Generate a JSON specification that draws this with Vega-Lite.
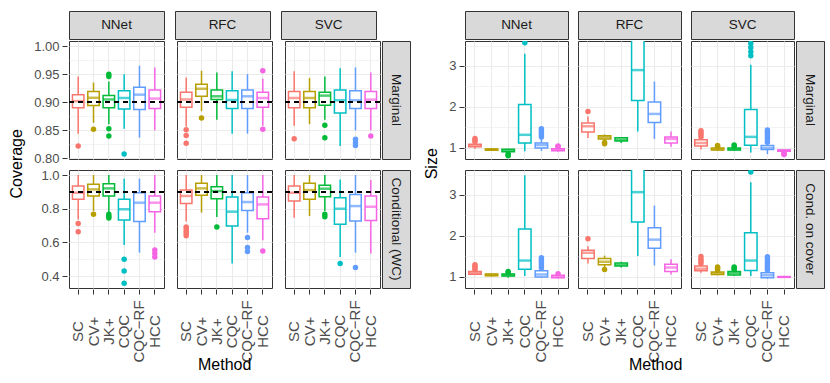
{
  "$schema": "https://vega.github.io/schema/vega-lite/v6.json",
  "padding": {"left": 8, "top": 10, "right": 5, "bottom": 5},
  "background": "white",
  "spacing": 12,
  "config": {
    "font": "Liberation Sans",
    "axis": {"labelFont": "Liberation Sans", "titleFont": "Liberation Sans", "titleFontWeight": "normal", "titleColor": "#000000", "titleFontSize": 16},
    "title": {"font": "Liberation Sans", "fontWeight": "normal", "fontSize": 16, "color": "#000000"}
  },
  "datasets": {
    "covM": [
      {"model":"NNet","method":"SC","lo":0.844,"q1":0.890,"med":0.902,"q3":0.9135,"hi":0.946},
      {"model":"NNet","method":"CV+","lo":0.8635,"q1":0.894,"med":0.908,"q3":0.919,"hi":0.935},
      {"model":"NNet","method":"JK+","lo":0.861,"q1":0.890,"med":0.905,"q3":0.912,"hi":0.937},
      {"model":"NNet","method":"CQC","lo":0.853,"q1":0.888,"med":0.9076,"q3":0.9206,"hi":0.950},
      {"model":"NNet","method":"CQC−RF","lo":0.837,"q1":0.887,"med":0.9135,"q3":0.9265,"hi":0.965},
      {"model":"NNet","method":"HCC","lo":0.850,"q1":0.889,"med":0.9065,"q3":0.922,"hi":0.962},
      {"model":"RFC","method":"SC","lo":0.857,"q1":0.891,"med":0.905,"q3":0.9176,"hi":0.944},
      {"model":"RFC","method":"CV+","lo":0.884,"q1":0.9106,"med":0.924,"q3":0.932,"hi":0.956},
      {"model":"RFC","method":"JK+","lo":0.869,"q1":0.905,"med":0.9106,"q3":0.922,"hi":0.953},
      {"model":"RFC","method":"CQC","lo":0.844,"q1":0.889,"med":0.904,"q3":0.9206,"hi":0.955},
      {"model":"RFC","method":"CQC−RF","lo":0.844,"q1":0.889,"med":0.9106,"q3":0.922,"hi":0.950},
      {"model":"RFC","method":"HCC","lo":0.858,"q1":0.891,"med":0.9076,"q3":0.9176,"hi":0.942},
      {"model":"SVC","method":"SC","lo":0.858,"q1":0.890,"med":0.9076,"q3":0.919,"hi":0.955},
      {"model":"SVC","method":"CV+","lo":0.861,"q1":0.890,"med":0.9076,"q3":0.919,"hi":0.943},
      {"model":"SVC","method":"JK+","lo":0.869,"q1":0.8947,"med":0.9118,"q3":0.918,"hi":0.946},
      {"model":"SVC","method":"CQC","lo":0.822,"q1":0.881,"med":0.9035,"q3":0.922,"hi":0.9606},
      {"model":"SVC","method":"CQC−RF","lo":0.850,"q1":0.889,"med":0.9035,"q3":0.9206,"hi":0.962},
      {"model":"SVC","method":"HCC","lo":0.850,"q1":0.889,"med":0.9047,"q3":0.919,"hi":0.953},
      {"model":"NNet","method":"SC","out":0.822},
      {"model":"NNet","method":"CV+","out":0.852},
      {"model":"NNet","method":"JK+","out":0.950},
      {"model":"NNet","method":"JK+","out":0.946},
      {"model":"NNet","method":"JK+","out":0.853},
      {"model":"NNet","method":"JK+","out":0.840},
      {"model":"NNet","method":"CQC","out":0.808},
      {"model":"RFC","method":"SC","out":0.851},
      {"model":"RFC","method":"SC","out":0.841},
      {"model":"RFC","method":"SC","out":0.827},
      {"model":"RFC","method":"CV+","out":0.872},
      {"model":"RFC","method":"HCC","out":0.956},
      {"model":"RFC","method":"HCC","out":0.852},
      {"model":"SVC","method":"SC","out":0.835},
      {"model":"SVC","method":"JK+","out":0.859},
      {"model":"SVC","method":"JK+","out":0.837},
      {"model":"SVC","method":"CQC−RF","out":0.834},
      {"model":"SVC","method":"CQC−RF","out":0.828},
      {"model":"SVC","method":"CQC−RF","out":0.823},
      {"model":"SVC","method":"HCC","out":0.840}
    ],
    "covC": [
      {"model":"NNet","method":"SC","lo":0.737,"q1":0.856,"med":0.895,"q3":0.935,"hi":1.0},
      {"model":"NNet","method":"CV+","lo":0.787,"q1":0.876,"med":0.915,"q3":0.945,"hi":1.0},
      {"model":"NNet","method":"JK+","lo":0.777,"q1":0.876,"med":0.921,"q3":0.949,"hi":1.0},
      {"model":"NNet","method":"CQC","lo":0.585,"q1":0.733,"med":0.797,"q3":0.856,"hi":0.978},
      {"model":"NNet","method":"CQC−RF","lo":0.54,"q1":0.724,"med":0.836,"q3":0.895,"hi":0.978},
      {"model":"NNet","method":"HCC","lo":0.658,"q1":0.783,"med":0.836,"q3":0.876,"hi":1.0},
      {"model":"RFC","method":"SC","lo":0.724,"q1":0.832,"med":0.876,"q3":0.911,"hi":1.0},
      {"model":"RFC","method":"CV+","lo":0.777,"q1":0.88,"med":0.921,"q3":0.951,"hi":1.0},
      {"model":"RFC","method":"JK+","lo":0.751,"q1":0.86,"med":0.905,"q3":0.931,"hi":1.0},
      {"model":"RFC","method":"CQC","lo":0.475,"q1":0.698,"med":0.783,"q3":0.87,"hi":1.0},
      {"model":"RFC","method":"CQC−RF","lo":0.658,"q1":0.79,"med":0.84,"q3":0.895,"hi":1.0},
      {"model":"RFC","method":"HCC","lo":0.613,"q1":0.741,"med":0.826,"q3":0.87,"hi":1.0},
      {"model":"SVC","method":"SC","lo":0.747,"q1":0.846,"med":0.895,"q3":0.935,"hi":1.0},
      {"model":"SVC","method":"CV+","lo":0.757,"q1":0.856,"med":0.911,"q3":0.951,"hi":1.0},
      {"model":"SVC","method":"JK+","lo":0.787,"q1":0.872,"med":0.919,"q3":0.939,"hi":1.0},
      {"model":"SVC","method":"CQC","lo":0.514,"q1":0.708,"med":0.80,"q3":0.866,"hi":0.974},
      {"model":"SVC","method":"CQC−RF","lo":0.54,"q1":0.728,"med":0.816,"q3":0.885,"hi":1.0},
      {"model":"SVC","method":"HCC","lo":0.534,"q1":0.731,"med":0.812,"q3":0.876,"hi":0.97},
      {"model":"NNet","method":"SC","out":0.712},
      {"model":"NNet","method":"SC","out":0.664},
      {"model":"NNet","method":"CV+","out":0.767},
      {"model":"NNet","method":"JK+","out":0.767},
      {"model":"NNet","method":"JK+","out":0.755},
      {"model":"NNet","method":"JK+","out":0.745},
      {"model":"NNet","method":"CQC","out":0.50},
      {"model":"NNet","method":"CQC","out":0.431},
      {"model":"NNet","method":"CQC","out":0.358},
      {"model":"NNet","method":"HCC","out":0.556},
      {"model":"NNet","method":"HCC","out":0.534},
      {"model":"NNet","method":"HCC","out":0.514},
      {"model":"RFC","method":"SC","out":0.692},
      {"model":"RFC","method":"SC","out":0.68},
      {"model":"RFC","method":"SC","out":0.665},
      {"model":"RFC","method":"SC","out":0.652},
      {"model":"RFC","method":"SC","out":0.64},
      {"model":"RFC","method":"JK+","out":0.692},
      {"model":"RFC","method":"CQC−RF","out":0.629},
      {"model":"RFC","method":"CQC−RF","out":0.57},
      {"model":"RFC","method":"CQC−RF","out":0.546},
      {"model":"RFC","method":"HCC","out":0.55},
      {"model":"SVC","method":"JK+","out":0.767},
      {"model":"SVC","method":"JK+","out":0.752},
      {"model":"SVC","method":"CQC","out":0.475},
      {"model":"SVC","method":"CQC−RF","out":0.451}
    ],
    "sizeM": [
      {"model":"NNet","method":"SC","lo":0.98,"q1":1.03,"med":1.06,"q3":1.09,"hi":1.12},
      {"model":"NNet","method":"CV+","lo":0.93,"q1":0.945,"med":0.96,"q3":0.975,"hi":0.99},
      {"model":"NNet","method":"JK+","lo":0.87,"q1":0.91,"med":0.93,"q3":0.965,"hi":0.98},
      {"model":"NNet","method":"CQC","lo":0.92,"q1":1.12,"med":1.32,"q3":2.06,"hi":3.30},
      {"model":"NNet","method":"CQC−RF","lo":0.93,"q1":1.0,"med":1.07,"q3":1.12,"hi":1.22},
      {"model":"NNet","method":"HCC","lo":0.91,"q1":0.93,"med":0.955,"q3":0.98,"hi":1.0},
      {"model":"RFC","method":"SC","lo":1.24,"q1":1.39,"med":1.53,"q3":1.61,"hi":1.77},
      {"model":"RFC","method":"CV+","lo":1.17,"q1":1.22,"med":1.26,"q3":1.30,"hi":1.33},
      {"model":"RFC","method":"JK+","lo":1.12,"q1":1.17,"med":1.20,"q3":1.25,"hi":1.27},
      {"model":"RFC","method":"CQC","lo":1.40,"q1":2.16,"med":2.90,"q3":3.75,"hi":4.5},
      {"model":"RFC","method":"CQC−RF","lo":1.22,"q1":1.62,"med":1.83,"q3":2.12,"hi":2.62},
      {"model":"RFC","method":"HCC","lo":1.03,"q1":1.12,"med":1.22,"q3":1.27,"hi":1.40},
      {"model":"SVC","method":"SC","lo":0.97,"q1":1.05,"med":1.12,"q3":1.20,"hi":1.22},
      {"model":"SVC","method":"CV+","lo":0.93,"q1":0.95,"med":0.97,"q3":1.0,"hi":1.02},
      {"model":"SVC","method":"JK+","lo":0.93,"q1":0.95,"med":0.97,"q3":1.0,"hi":1.02},
      {"model":"SVC","method":"CQC","lo":0.89,"q1":1.065,"med":1.27,"q3":1.94,"hi":3.03},
      {"model":"SVC","method":"CQC−RF","lo":0.85,"q1":0.96,"med":1.0,"q3":1.06,"hi":1.10},
      {"model":"SVC","method":"HCC","lo":0.90,"q1":0.92,"med":0.935,"q3":0.95,"hi":0.96},
      {"model":"NNet","method":"SC","out":1.15},
      {"model":"NNet","method":"SC","out":1.19},
      {"model":"NNet","method":"SC","out":1.23},
      {"model":"NNet","method":"JK+","out":0.85},
      {"model":"NNet","method":"JK+","out":0.83},
      {"model":"NNet","method":"JK+","out":0.81},
      {"model":"NNet","method":"CQC","out":3.57},
      {"model":"NNet","method":"CQC−RF","out":1.27},
      {"model":"NNet","method":"CQC−RF","out":1.32},
      {"model":"NNet","method":"CQC−RF","out":1.37},
      {"model":"NNet","method":"CQC−RF","out":1.42},
      {"model":"NNet","method":"CQC−RF","out":1.47},
      {"model":"NNet","method":"HCC","out":1.03},
      {"model":"NNet","method":"HCC","out":1.05},
      {"model":"RFC","method":"SC","out":1.89},
      {"model":"RFC","method":"CV+","out":1.13},
      {"model":"RFC","method":"CV+","out":1.10},
      {"model":"SVC","method":"SC","out":1.27},
      {"model":"SVC","method":"SC","out":1.32},
      {"model":"SVC","method":"SC","out":1.37},
      {"model":"SVC","method":"SC","out":1.42},
      {"model":"SVC","method":"CV+","out":1.04},
      {"model":"SVC","method":"CV+","out":1.06},
      {"model":"SVC","method":"JK+","out":1.04},
      {"model":"SVC","method":"JK+","out":1.07},
      {"model":"SVC","method":"CQC","out":3.25},
      {"model":"SVC","method":"CQC","out":3.35},
      {"model":"SVC","method":"CQC","out":3.45},
      {"model":"SVC","method":"CQC","out":3.55},
      {"model":"SVC","method":"CQC−RF","out":1.14},
      {"model":"SVC","method":"CQC−RF","out":1.20},
      {"model":"SVC","method":"CQC−RF","out":1.26},
      {"model":"SVC","method":"CQC−RF","out":1.32},
      {"model":"SVC","method":"CQC−RF","out":1.38},
      {"model":"SVC","method":"CQC−RF","out":1.44},
      {"model":"SVC","method":"HCC","out":0.88},
      {"model":"SVC","method":"HCC","out":0.86},
      {"model":"SVC","method":"HCC","out":0.84}
    ],
    "sizeC": [
      {"model":"NNet","method":"SC","lo":1.04,"q1":1.065,"med":1.10,"q3":1.13,"hi":1.15},
      {"model":"NNet","method":"CV+","lo":1.01,"q1":1.03,"med":1.05,"q3":1.07,"hi":1.08},
      {"model":"NNet","method":"JK+","lo":0.98,"q1":1.02,"med":1.045,"q3":1.07,"hi":1.09},
      {"model":"NNet","method":"CQC","lo":1.02,"q1":1.19,"med":1.40,"q3":2.17,"hi":3.48},
      {"model":"NNet","method":"CQC−RF","lo":0.98,"q1":1.0,"med":1.06,"q3":1.15,"hi":1.18},
      {"model":"NNet","method":"HCC","lo":0.96,"q1":0.98,"med":1.01,"q3":1.04,"hi":1.06},
      {"model":"RFC","method":"SC","lo":1.33,"q1":1.45,"med":1.59,"q3":1.65,"hi":1.75},
      {"model":"RFC","method":"CV+","lo":1.22,"q1":1.30,"med":1.37,"q3":1.45,"hi":1.52},
      {"model":"RFC","method":"JK+","lo":1.23,"q1":1.27,"med":1.30,"q3":1.34,"hi":1.37},
      {"model":"RFC","method":"CQC","lo":1.51,"q1":2.34,"med":3.07,"q3":3.85,"hi":4.6},
      {"model":"RFC","method":"CQC−RF","lo":1.28,"q1":1.70,"med":1.91,"q3":2.20,"hi":2.74},
      {"model":"RFC","method":"HCC","lo":1.06,"q1":1.13,"med":1.23,"q3":1.31,"hi":1.43},
      {"model":"SVC","method":"SC","lo":1.10,"q1":1.15,"med":1.20,"q3":1.27,"hi":1.29},
      {"model":"SVC","method":"CV+","lo":1.04,"q1":1.06,"med":1.09,"q3":1.12,"hi":1.14},
      {"model":"SVC","method":"JK+","lo":1.03,"q1":1.05,"med":1.09,"q3":1.13,"hi":1.15},
      {"model":"SVC","method":"CQC","lo":1.02,"q1":1.16,"med":1.40,"q3":2.08,"hi":3.31},
      {"model":"SVC","method":"CQC−RF","lo":0.96,"q1":0.98,"med":1.04,"q3":1.10,"hi":1.13},
      {"model":"SVC","method":"HCC","lo":0.99,"q1":0.995,"med":1.0,"q3":1.005,"hi":1.01},
      {"model":"NNet","method":"SC","out":1.18},
      {"model":"NNet","method":"SC","out":1.22},
      {"model":"NNet","method":"SC","out":1.26},
      {"model":"NNet","method":"SC","out":1.30},
      {"model":"NNet","method":"JK+","out":1.11},
      {"model":"NNet","method":"JK+","out":1.13},
      {"model":"NNet","method":"CQC−RF","out":1.22},
      {"model":"NNet","method":"CQC−RF","out":1.27},
      {"model":"NNet","method":"CQC−RF","out":1.32},
      {"model":"NNet","method":"CQC−RF","out":1.37},
      {"model":"NNet","method":"CQC−RF","out":1.42},
      {"model":"NNet","method":"CQC−RF","out":1.47},
      {"model":"NNet","method":"HCC","out":1.08},
      {"model":"RFC","method":"SC","out":1.93},
      {"model":"RFC","method":"CV+","out":1.18},
      {"model":"SVC","method":"SC","out":1.33},
      {"model":"SVC","method":"SC","out":1.38},
      {"model":"SVC","method":"SC","out":1.43},
      {"model":"SVC","method":"SC","out":1.50},
      {"model":"SVC","method":"CV+","out":1.17},
      {"model":"SVC","method":"CV+","out":1.21},
      {"model":"SVC","method":"CV+","out":1.24},
      {"model":"SVC","method":"JK+","out":1.18},
      {"model":"SVC","method":"JK+","out":1.21},
      {"model":"SVC","method":"JK+","out":1.24},
      {"model":"SVC","method":"CQC","out":3.56},
      {"model":"SVC","method":"CQC−RF","out":1.17},
      {"model":"SVC","method":"CQC−RF","out":1.22},
      {"model":"SVC","method":"CQC−RF","out":1.27},
      {"model":"SVC","method":"CQC−RF","out":1.32},
      {"model":"SVC","method":"CQC−RF","out":1.38},
      {"model":"SVC","method":"CQC−RF","out":1.44},
      {"model":"SVC","method":"CQC−RF","out":1.49}
    ]
  },
  "hconcat": [
    {
      "title": {"text": "Coverage", "orient": "left", "anchor": "middle", "offset": 9, "dx": 28},
      "spacing": 0,
      "vconcat": [
        {
          "data": {"values": [{"model":"NNet"},{"model":"RFC"},{"model":"SVC"}]},
          "facet": {"column": {"field": "model", "type": "nominal", "sort": ["NNet","RFC","SVC"], "header": {"labels": false, "title": null}}},
          "spacing": 9,
          "spec": {
            "width": 95, "height": 28,
            "view": {"fill": "#D9D9D9", "stroke": "#333333", "strokeWidth": 1},
            "mark": {"type": "text", "fontSize": 13.5, "color": "#1A1A1A", "font": "Liberation Sans"},
            "encoding": {"text": {"field": "model", "type": "nominal"}}
          }
        },
        {
          "spacing": 3,
          "vconcat": [
            {
              "spacing": -5,
              "hconcat": [
                {
                  "data": {"name": "covM"},
                  "facet": {"column": {"field": "model", "type": "nominal", "sort": ["NNet","RFC","SVC"], "header": {"labels": false, "title": null}}},
                  "spacing": 9,
                  "spec": {
                    "width": 95, "height": 118,
                    "view": {"stroke": "#333333", "strokeWidth": 1, "fill": "#FFFFFF"},
                    "resolve": {"axis": {"y": "independent"}},
                    "layer": [
                      {
                        "transform": [{"filter": "isValid(datum.q1)"}],
                        "mark": {"type": "rule", "strokeWidth": 1.5, "clip": true},
                        "encoding": {
                          "x": {"field": "method", "type": "nominal", "sort": ["SC","CV+","JK+","CQC","CQC−RF","HCC"], "title": null, "scale": {"paddingInner": 0, "paddingOuter": 0.1}, "axis": {"labels": false, "ticks": false, "domain": false, "grid": true, "gridColor": "#EBEBEB", "gridWidth": 1.1, "bandPosition": 0.5}},
                          "y": {"field": "lo", "type": "quantitative", "title": null, "scale": {"domain": [0.799, 1.009], "nice": false, "zero": false}, "axis": {"orient": "left", "values": [0.8,0.85,0.9,0.95,1.0], "format": ".2f", "labelOverlap": false, "labelFontSize": 13, "labelColor": "#4D4D4D", "labelPadding": 3, "tickColor": "#333333", "tickSize": 5, "domain": false, "grid": true, "gridColor": "#EBEBEB", "gridWidth": 1.1}},
                          "y2": {"field": "hi"},
                          "color": {"field": "method", "type": "nominal", "legend": null, "scale": {"domain": ["SC","CV+","JK+","CQC","CQC−RF","HCC"], "range": ["#F8766D","#B79F00","#00BA38","#00BFC4","#619CFF","#F564E3"]}}
                        }
                      },
                      {
                        "transform": [{"filter": "isValid(datum.q1)"}],
                        "mark": {"type": "bar", "fill": "#FFFFFF", "strokeWidth": 1.5, "width": {"band": 0.75}, "clip": true},
                        "encoding": {
                          "x": {"field": "method", "type": "nominal", "sort": ["SC","CV+","JK+","CQC","CQC−RF","HCC"], "title": null},
                          "y": {"field": "q1", "type": "quantitative", "title": null, "axis": {"orient": "left", "values": [0.825,0.875,0.925,0.975], "labels": false, "ticks": false, "domain": false, "grid": true, "gridColor": "#EBEBEB", "gridWidth": 0.6}},
                          "y2": {"field": "q3"},
                          "stroke": {"field": "method", "type": "nominal", "legend": null, "scale": {"domain": ["SC","CV+","JK+","CQC","CQC−RF","HCC"], "range": ["#F8766D","#B79F00","#00BA38","#00BFC4","#619CFF","#F564E3"]}}
                        }
                      },
                      {
                        "transform": [{"filter": "isValid(datum.q1)"}],
                        "mark": {"type": "tick", "thickness": 2.5, "size": 11.5, "clip": true},
                        "encoding": {
                          "x": {"field": "method", "type": "nominal", "sort": ["SC","CV+","JK+","CQC","CQC−RF","HCC"], "title": null},
                          "y": {"field": "med", "type": "quantitative", "title": null, "axis": null},
                          "color": {"field": "method", "type": "nominal", "legend": null}
                        }
                      },
                      {
                        "transform": [{"filter": "isValid(datum.out)"}],
                        "mark": {"type": "point", "filled": true, "size": 30, "opacity": 1, "clip": true},
                        "encoding": {
                          "x": {"field": "method", "type": "nominal", "sort": ["SC","CV+","JK+","CQC","CQC−RF","HCC"], "title": null},
                          "y": {"field": "out", "type": "quantitative", "title": null, "axis": null},
                          "color": {"field": "method", "type": "nominal", "legend": null}
                        }
                      },
                      {
                        "mark": {"type": "rule", "strokeDash": [5, 4], "strokeWidth": 1.5, "color": "#000000"},
                        "encoding": {"y": {"datum": 0.9, "title": null, "axis": null}}
                      }
                    ]
                  }
                },
                {
                  "data": {"values": [{"label": "Marginal"}]},
                  "width": 28, "height": 118,
                  "view": {"fill": "#D9D9D9", "stroke": "#333333", "strokeWidth": 1},
                  "mark": {"type": "text", "angle": 90, "fontSize": 13.5, "color": "#1A1A1A", "font": "Liberation Sans"},
                  "encoding": {"text": {"field": "label", "type": "nominal"}}
                }
              ]
            },
            {
              "title": {"text": "Method", "orient": "bottom", "anchor": "middle", "offset": 0, "dy": -5, "dx": -1},
              "spacing": -5,
              "hconcat": [
                {
                  "data": {"name": "covC"},
                  "facet": {"column": {"field": "model", "type": "nominal", "sort": ["NNet","RFC","SVC"], "header": {"labels": false, "title": null}}},
                  "spacing": 9,
                  "spec": {
                    "width": 95, "height": 118,
                    "view": {"stroke": "#333333", "strokeWidth": 1, "fill": "#FFFFFF"},
                    "resolve": {"axis": {"y": "independent"}},
                    "layer": [
                      {
                        "transform": [{"filter": "isValid(datum.q1)"}],
                        "mark": {"type": "rule", "strokeWidth": 1.5, "clip": true},
                        "encoding": {
                          "x": {"field": "method", "type": "nominal", "sort": ["SC","CV+","JK+","CQC","CQC−RF","HCC"], "title": null, "scale": {"paddingInner": 0, "paddingOuter": 0.1}, "axis": {"labelAngle": 270, "labelAlign": "center", "labelBaseline": "middle", "labelFontSize": 15, "labelColor": "#4D4D4D", "labelPadding": 37, "ticks": true, "tickColor": "#333333", "tickSize": 5, "domain": false, "grid": true, "gridColor": "#EBEBEB", "gridWidth": 1.1, "bandPosition": 0.5}},
                          "y": {"field": "lo", "type": "quantitative", "title": null, "scale": {"domain": [0.33, 1.03], "nice": false, "zero": false}, "axis": {"orient": "left", "values": [0.4,0.6,0.8,1.0], "format": ".1f", "labelOverlap": false, "labelFontSize": 13, "labelColor": "#4D4D4D", "labelPadding": 3, "tickColor": "#333333", "tickSize": 5, "domain": false, "grid": true, "gridColor": "#EBEBEB", "gridWidth": 1.1}},
                          "y2": {"field": "hi"},
                          "color": {"field": "method", "type": "nominal", "legend": null, "scale": {"domain": ["SC","CV+","JK+","CQC","CQC−RF","HCC"], "range": ["#F8766D","#B79F00","#00BA38","#00BFC4","#619CFF","#F564E3"]}}
                        }
                      },
                      {
                        "transform": [{"filter": "isValid(datum.q1)"}],
                        "mark": {"type": "bar", "fill": "#FFFFFF", "strokeWidth": 1.5, "width": {"band": 0.75}, "clip": true},
                        "encoding": {
                          "x": {"field": "method", "type": "nominal", "sort": ["SC","CV+","JK+","CQC","CQC−RF","HCC"], "title": null},
                          "y": {"field": "q1", "type": "quantitative", "title": null, "axis": {"orient": "left", "values": [0.5,0.7,0.9], "labels": false, "ticks": false, "domain": false, "grid": true, "gridColor": "#EBEBEB", "gridWidth": 0.6}},
                          "y2": {"field": "q3"},
                          "stroke": {"field": "method", "type": "nominal", "legend": null, "scale": {"domain": ["SC","CV+","JK+","CQC","CQC−RF","HCC"], "range": ["#F8766D","#B79F00","#00BA38","#00BFC4","#619CFF","#F564E3"]}}
                        }
                      },
                      {
                        "transform": [{"filter": "isValid(datum.q1)"}],
                        "mark": {"type": "tick", "thickness": 2.5, "size": 11.5, "clip": true},
                        "encoding": {
                          "x": {"field": "method", "type": "nominal", "sort": ["SC","CV+","JK+","CQC","CQC−RF","HCC"], "title": null},
                          "y": {"field": "med", "type": "quantitative", "title": null, "axis": null},
                          "color": {"field": "method", "type": "nominal", "legend": null}
                        }
                      },
                      {
                        "transform": [{"filter": "isValid(datum.out)"}],
                        "mark": {"type": "point", "filled": true, "size": 30, "opacity": 1, "clip": true},
                        "encoding": {
                          "x": {"field": "method", "type": "nominal", "sort": ["SC","CV+","JK+","CQC","CQC−RF","HCC"], "title": null},
                          "y": {"field": "out", "type": "quantitative", "title": null, "axis": null},
                          "color": {"field": "method", "type": "nominal", "legend": null}
                        }
                      },
                      {
                        "mark": {"type": "rule", "strokeDash": [5, 4], "strokeWidth": 1.5, "color": "#000000"},
                        "encoding": {"y": {"datum": 0.9, "title": null, "axis": null}}
                      }
                    ]
                  }
                },
                {
                  "data": {"values": [{"label": "Conditional (WC)"}]},
                  "width": 28, "height": 118,
                  "view": {"fill": "#D9D9D9", "stroke": "#333333", "strokeWidth": 1},
                  "mark": {"type": "text", "angle": 90, "fontSize": 13.5, "color": "#1A1A1A", "font": "Liberation Sans"},
                  "encoding": {"text": {"field": "label", "type": "nominal"}}
                }
              ]
            }
          ]
        }
      ]
    },
    {
      "title": {"text": "Size", "orient": "left", "anchor": "middle", "offset": 9, "dx": 28},
      "spacing": 0,
      "vconcat": [
        {
          "data": {"values": [{"model":"NNet"},{"model":"RFC"},{"model":"SVC"}]},
          "facet": {"column": {"field": "model", "type": "nominal", "sort": ["NNet","RFC","SVC"], "header": {"labels": false, "title": null}}},
          "spacing": 8,
          "spec": {
            "width": 103, "height": 28,
            "view": {"fill": "#D9D9D9", "stroke": "#333333", "strokeWidth": 1},
            "mark": {"type": "text", "fontSize": 13.5, "color": "#1A1A1A", "font": "Liberation Sans"},
            "encoding": {"text": {"field": "model", "type": "nominal"}}
          }
        },
        {
          "spacing": 9,
          "vconcat": [
            {
              "spacing": 0,
              "hconcat": [
                {
                  "data": {"name": "sizeM"},
                  "facet": {"column": {"field": "model", "type": "nominal", "sort": ["NNet","RFC","SVC"], "header": {"labels": false, "title": null}}},
                  "spacing": 8,
                  "spec": {
                    "width": 103, "height": 118,
                    "view": {"stroke": "#333333", "strokeWidth": 1, "fill": "#FFFFFF"},
                    "resolve": {"axis": {"y": "independent"}},
                    "layer": [
                      {
                        "transform": [{"filter": "isValid(datum.q1)"}],
                        "mark": {"type": "rule", "strokeWidth": 1.5, "clip": true},
                        "encoding": {
                          "x": {"field": "method", "type": "nominal", "sort": ["SC","CV+","JK+","CQC","CQC−RF","HCC"], "title": null, "scale": {"paddingInner": 0, "paddingOuter": 0.1}, "axis": {"labels": false, "ticks": false, "domain": false, "grid": true, "gridColor": "#EBEBEB", "gridWidth": 1.1, "bandPosition": 0.5}},
                          "y": {"field": "lo", "type": "quantitative", "title": null, "scale": {"domain": [0.73, 3.61], "nice": false, "zero": false}, "axis": {"orient": "left", "values": [1,2,3], "format": "d", "labelOverlap": false, "labelFontSize": 13, "labelColor": "#4D4D4D", "labelPadding": 3, "tickColor": "#333333", "tickSize": 5, "domain": false, "grid": true, "gridColor": "#EBEBEB", "gridWidth": 1.1}},
                          "y2": {"field": "hi"},
                          "color": {"field": "method", "type": "nominal", "legend": null, "scale": {"domain": ["SC","CV+","JK+","CQC","CQC−RF","HCC"], "range": ["#F8766D","#B79F00","#00BA38","#00BFC4","#619CFF","#F564E3"]}}
                        }
                      },
                      {
                        "transform": [{"filter": "isValid(datum.q1)"}],
                        "mark": {"type": "bar", "fill": "#FFFFFF", "strokeWidth": 1.5, "width": {"band": 0.75}, "clip": true},
                        "encoding": {
                          "x": {"field": "method", "type": "nominal", "sort": ["SC","CV+","JK+","CQC","CQC−RF","HCC"], "title": null},
                          "y": {"field": "q1", "type": "quantitative", "title": null, "axis": {"orient": "left", "values": [1.5,2.5,3.5], "labels": false, "ticks": false, "domain": false, "grid": true, "gridColor": "#EBEBEB", "gridWidth": 0.6}},
                          "y2": {"field": "q3"},
                          "stroke": {"field": "method", "type": "nominal", "legend": null, "scale": {"domain": ["SC","CV+","JK+","CQC","CQC−RF","HCC"], "range": ["#F8766D","#B79F00","#00BA38","#00BFC4","#619CFF","#F564E3"]}}
                        }
                      },
                      {
                        "transform": [{"filter": "isValid(datum.q1)"}],
                        "mark": {"type": "tick", "thickness": 2.5, "size": 12.4, "clip": true},
                        "encoding": {
                          "x": {"field": "method", "type": "nominal", "sort": ["SC","CV+","JK+","CQC","CQC−RF","HCC"], "title": null},
                          "y": {"field": "med", "type": "quantitative", "title": null, "axis": null},
                          "color": {"field": "method", "type": "nominal", "legend": null}
                        }
                      },
                      {
                        "transform": [{"filter": "isValid(datum.out)"}],
                        "mark": {"type": "point", "filled": true, "size": 30, "opacity": 1, "clip": true},
                        "encoding": {
                          "x": {"field": "method", "type": "nominal", "sort": ["SC","CV+","JK+","CQC","CQC−RF","HCC"], "title": null},
                          "y": {"field": "out", "type": "quantitative", "title": null, "axis": null},
                          "color": {"field": "method", "type": "nominal", "legend": null}
                        }
                      }
                    ]
                  }
                },
                {
                  "data": {"values": [{"label": "Marginal"}]},
                  "width": 28, "height": 118,
                  "view": {"fill": "#D9D9D9", "stroke": "#333333", "strokeWidth": 1},
                  "mark": {"type": "text", "angle": 90, "fontSize": 13.5, "color": "#1A1A1A", "font": "Liberation Sans"},
                  "encoding": {"text": {"field": "label", "type": "nominal"}}
                }
              ]
            },
            {
              "title": {"text": "Method", "orient": "bottom", "anchor": "middle", "offset": 0, "dy": -5, "dx": 19},
              "spacing": 0,
              "hconcat": [
                {
                  "data": {"name": "sizeC"},
                  "facet": {"column": {"field": "model", "type": "nominal", "sort": ["NNet","RFC","SVC"], "header": {"labels": false, "title": null}}},
                  "spacing": 8,
                  "spec": {
                    "width": 103, "height": 118,
                    "view": {"stroke": "#333333", "strokeWidth": 1, "fill": "#FFFFFF"},
                    "resolve": {"axis": {"y": "independent"}},
                    "layer": [
                      {
                        "transform": [{"filter": "isValid(datum.q1)"}],
                        "mark": {"type": "rule", "strokeWidth": 1.5, "clip": true},
                        "encoding": {
                          "x": {"field": "method", "type": "nominal", "sort": ["SC","CV+","JK+","CQC","CQC−RF","HCC"], "title": null, "scale": {"paddingInner": 0, "paddingOuter": 0.1}, "axis": {"labelAngle": 270, "labelAlign": "center", "labelBaseline": "middle", "labelFontSize": 15, "labelColor": "#4D4D4D", "labelPadding": 37, "ticks": true, "tickColor": "#333333", "tickSize": 5, "domain": false, "grid": true, "gridColor": "#EBEBEB", "gridWidth": 1.1, "bandPosition": 0.5}},
                          "y": {"field": "lo", "type": "quantitative", "title": null, "scale": {"domain": [0.73, 3.61], "nice": false, "zero": false}, "axis": {"orient": "left", "values": [1,2,3], "format": "d", "labelOverlap": false, "labelFontSize": 13, "labelColor": "#4D4D4D", "labelPadding": 3, "tickColor": "#333333", "tickSize": 5, "domain": false, "grid": true, "gridColor": "#EBEBEB", "gridWidth": 1.1}},
                          "y2": {"field": "hi"},
                          "color": {"field": "method", "type": "nominal", "legend": null, "scale": {"domain": ["SC","CV+","JK+","CQC","CQC−RF","HCC"], "range": ["#F8766D","#B79F00","#00BA38","#00BFC4","#619CFF","#F564E3"]}}
                        }
                      },
                      {
                        "transform": [{"filter": "isValid(datum.q1)"}],
                        "mark": {"type": "bar", "fill": "#FFFFFF", "strokeWidth": 1.5, "width": {"band": 0.75}, "clip": true},
                        "encoding": {
                          "x": {"field": "method", "type": "nominal", "sort": ["SC","CV+","JK+","CQC","CQC−RF","HCC"], "title": null},
                          "y": {"field": "q1", "type": "quantitative", "title": null, "axis": {"orient": "left", "values": [1.5,2.5,3.5], "labels": false, "ticks": false, "domain": false, "grid": true, "gridColor": "#EBEBEB", "gridWidth": 0.6}},
                          "y2": {"field": "q3"},
                          "stroke": {"field": "method", "type": "nominal", "legend": null, "scale": {"domain": ["SC","CV+","JK+","CQC","CQC−RF","HCC"], "range": ["#F8766D","#B79F00","#00BA38","#00BFC4","#619CFF","#F564E3"]}}
                        }
                      },
                      {
                        "transform": [{"filter": "isValid(datum.q1)"}],
                        "mark": {"type": "tick", "thickness": 2.5, "size": 12.4, "clip": true},
                        "encoding": {
                          "x": {"field": "method", "type": "nominal", "sort": ["SC","CV+","JK+","CQC","CQC−RF","HCC"], "title": null},
                          "y": {"field": "med", "type": "quantitative", "title": null, "axis": null},
                          "color": {"field": "method", "type": "nominal", "legend": null}
                        }
                      },
                      {
                        "transform": [{"filter": "isValid(datum.out)"}],
                        "mark": {"type": "point", "filled": true, "size": 30, "opacity": 1, "clip": true},
                        "encoding": {
                          "x": {"field": "method", "type": "nominal", "sort": ["SC","CV+","JK+","CQC","CQC−RF","HCC"], "title": null},
                          "y": {"field": "out", "type": "quantitative", "title": null, "axis": null},
                          "color": {"field": "method", "type": "nominal", "legend": null}
                        }
                      }
                    ]
                  }
                },
                {
                  "data": {"values": [{"label": "Cond. on cover"}]},
                  "width": 28, "height": 118,
                  "view": {"fill": "#D9D9D9", "stroke": "#333333", "strokeWidth": 1},
                  "mark": {"type": "text", "angle": 90, "fontSize": 13.5, "color": "#1A1A1A", "font": "Liberation Sans"},
                  "encoding": {"text": {"field": "label", "type": "nominal"}}
                }
              ]
            }
          ]
        }
      ]
    }
  ]
}
